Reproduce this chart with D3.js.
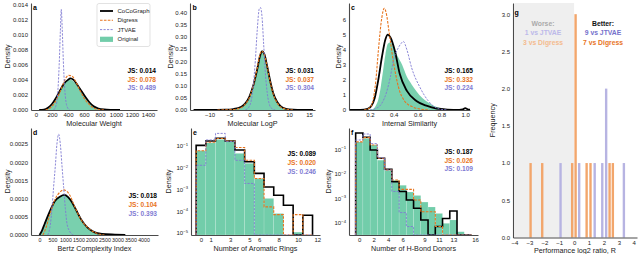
<!DOCTYPE html>
<html>
<head>
<meta charset="utf-8">
<script src="https://cdn.jsdelivr.net/npm/d3@7"></script>
<style>
  body { margin: 0; background: #fff; }
  svg { font-family: "Liberation Sans", Arial, sans-serif; }
</style>
</head>
<body>
<svg id="chart" width="640" height="254"></svg>
<script>
// ---- data ----
// a: molecular weight densities, [value, density]
var mwOriginal = [[70,0],[130,0.0001],[180,0.0004],[230,0.001],[280,0.002],[330,0.0031],[370,0.0038],[415,0.0041],[460,0.0039],[510,0.0033],[560,0.0025],[610,0.0017],[660,0.001],[710,0.0005],[770,0.0002],[850,0.00005],[950,0]];
var mwCoCo = [[40,0],[100,0.00005],[150,0.0003],[200,0.0008],[250,0.0016],[300,0.0026],[350,0.0035],[400,0.004],[430,0.0042],[470,0.004],[520,0.0033],[570,0.0025],[620,0.0017],[670,0.001],[720,0.0005],[780,0.0002],[850,0.00007],[950,0.00002],[1050,0]];
var mwDigress = [[120,0],[180,0.0003],[230,0.0009],[280,0.0019],[330,0.0032],[370,0.0042],[410,0.0046],[450,0.0045],[500,0.0037],[550,0.0026],[600,0.0016],[650,0.0009],[700,0.0004],[760,0.0001],[850,0]];
var mwJTVAE = [[220,0],[250,0.0006],[270,0.002],[290,0.006],[305,0.0105],[316,0.0134],[328,0.0108],[342,0.0065],[358,0.003],[375,0.0011],[395,0.0003],[420,0]];

// b: logP
var logpOriginal = [[-10,0],[-6,0.001],[-4,0.004],[-2,0.014],[-1,0.028],[0,0.055],[1,0.1],[2,0.17],[2.6,0.22],[3.2,0.245],[3.8,0.232],[4.5,0.18],[5.3,0.115],[6,0.07],[7,0.032],[8,0.013],[9,0.005],[11,0.001],[13,0]];
var logpCoCo = [[-14,0],[-10,0.0005],[-6,0.0015],[-4,0.004],[-2,0.013],[-1,0.027],[0,0.054],[1,0.1],[2,0.168],[2.7,0.222],[3.2,0.24],[3.8,0.228],[4.5,0.178],[5.3,0.115],[6,0.07],[7,0.033],[8,0.014],[9,0.006],[11,0.0015],[14,0.0003],[16,0]];
var logpDigress = [[-8,0],[-4,0.002],[-2,0.01],[-1,0.025],[0,0.05],[1,0.1],[2,0.172],[2.6,0.222],[3.1,0.242],[3.7,0.23],[4.5,0.176],[5.3,0.11],[6,0.066],[7,0.03],[8,0.011],[9.5,0.003],[11,0]];
var logpJTVAE = [[-1,0],[0,0.015],[0.5,0.04],[1,0.1],[1.5,0.2],[2,0.33],[2.5,0.415],[2.8,0.42],[3.2,0.38],[3.6,0.27],[4,0.16],[4.5,0.07],[5,0.025],[5.5,0.008],[6.5,0]];

// c: internal similarity
var simOriginal = [[0.15,0],[0.22,0.05],[0.25,0.3],[0.27,0.7],[0.29,1.5],[0.31,2.6],[0.33,3.7],[0.35,4.4],[0.37,4.5],[0.4,4.1],[0.43,3.6],[0.47,3.0],[0.51,2.2],[0.55,1.7],[0.59,1.25],[0.64,0.8],[0.68,0.55],[0.72,0.35],[0.76,0.2],[0.8,0.1],[0.85,0.03],[0.9,0]];
var simCoCo = [[0.03,0],[0.12,0.01],[0.18,0.08],[0.21,0.25],[0.24,0.8],[0.27,2.0],[0.3,3.5],[0.33,4.7],[0.35,5.0],[0.37,4.85],[0.41,3.9],[0.45,2.4],[0.51,1.27],[0.59,0.6],[0.68,0.27],[0.76,0.1],[0.85,0.03],[0.95,0.01],[0.98,0.04],[1.0,0.12],[1.02,0.05],[1.04,0.02]];
var simDigress = [[0.15,0],[0.2,0.15],[0.23,0.8],[0.25,2.0],[0.27,3.9],[0.3,6.15],[0.32,6.75],[0.34,6.3],[0.36,5.2],[0.4,3.05],[0.44,1.5],[0.49,0.6],[0.56,0.2],[0.62,0.07],[0.7,0]];
var simJTVAE = [[0.2,0],[0.25,0.1],[0.3,0.45],[0.34,1.2],[0.37,2.15],[0.4,3.4],[0.43,4.0],[0.46,4.4],[0.48,4.55],[0.51,4.0],[0.55,2.8],[0.62,1.5],[0.69,0.6],[0.77,0.1],[0.85,0]];

// d: Bertz complexity
var bertzOriginal = [[0,0],[100,0.00012],[200,0.0003],[392,0.00064],[585,0.00092],[800,0.00106],[950,0.0011],[1100,0.00104],[1250,0.0009],[1400,0.0007],[1600,0.00043],[1850,0.0002],[2100,0.00008],[2400,0.00003],[3000,0.000005],[3300,0]];
var bertzCoCo = [[0,0],[100,0.00013],[200,0.00031],[392,0.00064],[585,0.00093],[800,0.00106],[950,0.0011],[1100,0.00104],[1250,0.0009],[1400,0.0007],[1600,0.00043],[1850,0.0002],[2100,0.00008],[2400,0.00003],[2900,0.00001],[3300,0]];
var bertzDigress = [[130,0],[250,0.0002],[392,0.00055],[585,0.00096],[806,0.00119],[936,0.00124],[1050,0.0012],[1160,0.0011],[1354,0.00078],[1608,0.00041],[1865,0.0002],[2120,0.00007],[2500,0]];
var bertzJTVAE = [[320,0],[420,0.0003],[481,0.00073],[540,0.0013],[609,0.0019],[670,0.0025],[738,0.00277],[800,0.0025],[865,0.0019],[930,0.0013],[994,0.00073],[1060,0.0003],[1160,0.0001],[1300,0]];

// e: aromatic rings, density per bin 0..11
var ringBins = [0,1,2,3,4,5,6,7,8,9,10,11];
var ringOriginal = [0.061,0.14,0.2,0.16,0.046,0.016,0.0032,0.00039,0.000079,0,0.000011,0];
var ringCoCo = [0.107,0.17,0.226,0.17,0.066,0.019,0.0055,0.0013,0.00055,0.00019,0,0.000066];
var ringDigress = [0.061,0.15,0.22,0.17,0.085,0.022,0.0032,0.00016,0.00007,0,0.00007,0];
var ringJTVAE = [0.013,0.19,0.38,0.16,0.022,0.0019,0,0,0,0,0,0];

// f: H-bond donors, density per bin 0..15
var donorBins = [0,1,2,3,4,5,6,7,8,9,10,11,12,13,14,15];
var donorOriginal = [0.2,0.28,0.15,0.036,0.014,0.0055,0.0034,0.0018,0.0013,0.0007,0.00044,0.00024,0.000095,0.00013,0.000043,0];
var donorCoCo = [0.46,0.31,0.094,0.043,0.0153,0.0047,0.0019,0.00085,0.00039,0.00013,0,0.00007,0.00015,0.0003,0,0];
var donorDigress = [0.2,0.3,0.15,0.043,0.0143,0.0056,0.0023,0.0023,0.00085,0.00028,0.00028,0.00007,0,0,0,0];
var donorJTVAE = [0.24,0.42,0.17,0.045,0.0143,0.0019,0.00026,0.00007,0,0,0,0,0,0,0,0];

// g: performance log2 ratio histogram
var gDigressR = [-2.92,-2.14,-0.13,0.1,0.84,1.1,2.38,2.6];
var gDigressN = [1,1,1,3,1,1,1,1];
var gJTVAER = [-0.91,0.34,1.38,1.89,2.15,3.34];
var gJTVAEN = [1,1,1,1,2,1];

var jsScores = {
  a: ["0.014","0.078","0.489"], b: ["0.031","0.037","0.304"], c: ["0.165","0.332","0.224"],
  d: ["0.018","0.104","0.393"], e: ["0.089","0.020","0.246"], f: ["0.187","0.026","0.109"]
};

// ---- drawing ----
var svg = d3.select("#chart");
var col = {coco: "#000000", digress: "#e8741e", jtvae: "#7f7bd3", orig: "#72cdaa", axis: "#4a4a4a"};

function makePanel(box, xDom, yDom, log) {
  var x = d3.scaleLinear().domain(xDom).range([box.l, box.r]);
  var y = (log ? d3.scaleLog() : d3.scaleLinear()).domain(yDom).range([box.b, box.t]);
  return {x: x, y: y, box: box, log: log};
}

function drawAxes(p, xTicks, xFmt, yTicks, yFmt, xLabel, yLabel, yLabelX, xFont) {
  var gx = svg.append("g").attr("transform", "translate(0," + p.box.b + ")")
    .call(d3.axisBottom(p.x).tickValues(xTicks).tickFormat(xFmt).tickSize(0).tickPadding(3).tickSizeOuter(0));
  var gy = svg.append("g").attr("transform", "translate(" + p.box.l + ",0)")
    .call(d3.axisLeft(p.y).tickValues(yTicks).tickFormat(p.log ? "" : yFmt).tickSize(0).tickPadding(3).tickSizeOuter(0));
  [gx, gy].forEach(function(g) {
    g.select(".domain").attr("stroke", col.axis).attr("stroke-width", 1.1);
    g.selectAll("text").attr("font-size", 6).attr("fill", "#222")
      .attr("font-family", "'Liberation Sans', Arial, sans-serif");
  });
  if (xFont) gx.selectAll("text").attr("font-size", xFont);
  if (p.log) {
    // 10^-n labels
    gy.selectAll(".tick text").each(function(d) {
      var t = d3.select(this).text("");
      t.append("tspan").text("10");
      t.append("tspan").attr("dy", -2.5).attr("font-size", 4.2).text("\u2212" + Math.round(-Math.log10(d)));
    });
  }
  svg.append("text").attr("x", (p.box.l + p.box.r) / 2).attr("y", p.box.b + 15.5)
    .attr("text-anchor", "middle").attr("font-size", 7.2).attr("fill", "#222").text(xLabel);
  svg.append("text").attr("transform", "translate(" + yLabelX + "," + ((p.box.t + p.box.b) / 2) + ") rotate(-90)")
    .attr("text-anchor", "middle").attr("font-size", 7.2).attr("fill", "#222").text(yLabel);
}

function letter(s, x, y) {
  svg.append("text").attr("x", x).attr("y", y).attr("font-size", 7).attr("font-weight", "bold").text(s);
}

function jsText(scores, x, ys) {
  var cs = [col.coco, col.digress, col.jtvae];
  scores.forEach(function(s, i) {
    svg.append("text").attr("x", x).attr("y", ys[i]).attr("text-anchor", "end")
      .attr("font-size", 6.6).attr("font-weight", "bold").attr("fill", cs[i]).text("JS: " + s);
  });
}

function kdePanel(p, orig, coco, digress, jtvae) {
  var clipId = "clip" + Math.round(p.box.l) + "_" + Math.round(p.box.t);
  svg.append("clipPath").attr("id", clipId).append("rect")
    .attr("x", p.box.l).attr("y", p.box.t - 2).attr("width", p.box.r - p.box.l).attr("height", p.box.b - p.box.t + 2);
  var g = svg.append("g").attr("clip-path", "url(#" + clipId + ")");
  var area = d3.area().curve(d3.curveMonotoneX)
    .x(function(d) { return p.x(d[0]); }).y0(p.y(0)).y1(function(d) { return p.y(d[1]); });
  var line = d3.line().curve(d3.curveMonotoneX)
    .x(function(d) { return p.x(d[0]); }).y(function(d) { return p.y(d[1]); });
  g.append("path").datum(orig).attr("d", area).attr("fill", col.orig).attr("fill-opacity", 0.95);
  g.append("path").datum(coco).attr("d", line).attr("fill", "none").attr("stroke", col.coco).attr("stroke-width", 1.8);
  g.append("path").datum(digress).attr("d", line).attr("fill", "none").attr("stroke", col.digress)
    .attr("stroke-width", 1.1).attr("stroke-dasharray", "2.6,1.3");
  g.append("path").datum(jtvae).attr("d", line).attr("fill", "none").attr("stroke", col.jtvae)
    .attr("stroke-width", 0.9).attr("stroke-dasharray", "2.2,1.3");
}

function histPanel(p, bins, orig, coco, digress, jtvae) {
  var yMin = p.y.domain()[0];
  var bottom = p.box.b;
  var g = svg.append("g");
  g.selectAll(".hbar").data(bins.filter(function(b, i) { return orig[i] > 0; }))
    .enter().append("rect")
      .attr("x", function(b) { return p.x(b - 0.5); })
      .attr("width", function(b) { return p.x(b + 0.5) - p.x(b - 0.5); })
      .attr("y", function(b) { return p.y(orig[bins.indexOf(b)]); })
      .attr("height", function(b) { return bottom - p.y(orig[bins.indexOf(b)]); })
      .attr("fill", col.orig).attr("stroke", "#ffffff").attr("stroke-opacity", 0.35).attr("stroke-width", 0.4);
  function stepPts(vals) {
    var pts = [];
    bins.forEach(function(b, i) {
      var v = vals[i] > 0 ? vals[i] : yMin;
      pts.push([b - 0.5, v]);
      pts.push([b + 0.5, v]);
    });
    pts.unshift([bins[0] - 0.5, yMin]);
    pts.push([bins[bins.length - 1] + 0.5, yMin]);
    return pts;
  }
  var line = d3.line().x(function(d) { return p.x(d[0]); })
    .y(function(d) { return Math.min(bottom, p.y(d[1])); });
  g.append("path").attr("d", line(stepPts(coco))).attr("fill", "none").attr("stroke", col.coco).attr("stroke-width", 1.6);
  g.append("path").attr("d", line(stepPts(digress))).attr("fill", "none").attr("stroke", col.digress)
    .attr("stroke-width", 1.1).attr("stroke-dasharray", "2.6,1.3");
  g.append("path").attr("d", line(stepPts(jtvae))).attr("fill", "none").attr("stroke", col.jtvae)
    .attr("stroke-width", 0.9).attr("stroke-dasharray", "2.2,1.3");
}

// panel a
var pa = makePanel({l: 31, r: 157, t: 3, b: 110}, [-62, 1512], [0, 0.01422], false);
kdePanel(pa, mwOriginal, mwCoCo, mwDigress, mwJTVAE);
drawAxes(pa, d3.range(0, 1401, 200), d3.format("d"), d3.range(0, 0.0141, 0.002), d3.format(".3f"),
  "Molecular Weight", "Density", 10);
letter("a", 33, 10);
jsText(jsScores.a, 156, [72.5, 81.5, 90]);

// legend
var lg = svg.append("g");
lg.append("rect").attr("x", 97).attr("y", 3.5).attr("width", 53).attr("height", 43).attr("rx", 2)
  .attr("fill", "#fff").attr("fill-opacity", 0.85).attr("stroke", "#d6d6d6").attr("stroke-width", 0.7);
var legItems = [
  {name: "CoCoGraph", color: col.coco, w: 1.8, dash: null},
  {name: "Digress", color: col.digress, w: 1.1, dash: "2.6,1.3"},
  {name: "JTVAE", color: col.jtvae, w: 0.9, dash: "2.2,1.3"},
  {name: "Original", color: col.orig, patch: true}
];
var legY = [11, 20.3, 29.6, 39.3];
legItems.forEach(function(it, i) {
  if (it.patch) {
    lg.append("rect").attr("x", 100).attr("y", legY[i] - 2.6).attr("width", 13).attr("height", 5.2).attr("fill", it.color);
  } else {
    lg.append("line").attr("x1", 100).attr("x2", 113).attr("y1", legY[i]).attr("y2", legY[i])
      .attr("stroke", it.color).attr("stroke-width", it.w).attr("stroke-dasharray", it.dash);
  }
  lg.append("text").attr("x", 117.5).attr("y", legY[i] + 2.1).attr("font-size", 6).attr("fill", "#222").text(it.name);
});

// panel b
var pb = makePanel({l: 190, r: 315, t: 3, b: 110}, [-14.9, 16.5], [0, 0.4385], false);
kdePanel(pb, logpOriginal, logpCoCo, logpDigress, logpJTVAE);
drawAxes(pb, [-10, -5, 0, 5, 10, 15], d3.format("d"), d3.range(0, 0.401, 0.05), d3.format(".2f"),
  "Molecular LogP", "Density", 172.5);
letter("b", 192.5, 10);
jsText(jsScores.b, 314, [72.5, 81.5, 90]);

// panel c
var pc = makePanel({l: 349, r: 470, t: 3, b: 110}, [0.024, 1.04], [0, 7.1], false);
kdePanel(pc, simOriginal, simCoCo, simDigress, simJTVAE);
drawAxes(pc, [0.2, 0.4, 0.6, 0.8, 1.0], d3.format(".1f"), [0, 1, 2, 3, 4, 5, 6], d3.format("d"),
  "Internal Similarity", "Density", 340.5);
letter("c", 351, 10);
jsText(jsScores.c, 473, [72.5, 81.5, 90]);

// panel d
var pd = makePanel({l: 31, r: 158, t: 128, b: 235}, [-327, 4557], [0, 0.00294], false);
kdePanel(pd, bertzOriginal, bertzCoCo, bertzDigress, bertzJTVAE);
drawAxes(pd, d3.range(0, 4001, 500), d3.format("d"), d3.range(0, 0.00251, 0.0005), d3.format(".4f"),
  "Bertz Complexity Index", "Density", 10, 5.3);
letter("d", 33, 135);
jsText(jsScores.d, 157, [197.5, 206.8, 215.8]);

// panel e
var pe = makePanel({l: 191, r: 320, t: 128, b: 235}, [-1.03, 12.27], [Math.pow(10, -5.09), Math.pow(10, -0.172)], true);
histPanel(pe, ringBins, ringOriginal, ringCoCo, ringDigress, ringJTVAE);
drawAxes(pe, [0, 1, 3, 5, 6, 8, 10, 12], d3.format("d"), [1e-1, 1e-2, 1e-3, 1e-4, 1e-5], null,
  "Number of Aromatic Rings", "Density", 170.5);
letter("e", 193, 135);
jsText(jsScores.e, 316, [155.8, 164.8, 174.2]);

// panel f
var pf = makePanel({l: 349, r: 478, t: 128, b: 235}, [-1.42, 16.4], [Math.pow(10, -4.5), Math.pow(10, -0.131)], true);
histPanel(pf, donorBins, donorOriginal, donorCoCo, donorDigress, donorJTVAE);
drawAxes(pf, [0, 2, 4, 6, 9, 11, 13, 16], d3.format("d"), [1e-1, 1e-2, 1e-3, 1e-4], null,
  "Number of H-Bond Donors", "Density", 330.5);
letter("f", 351, 135);
jsText(jsScores.f, 473, [154.2, 162.5, 170.8]);

// panel g
var pg = makePanel({l: 513, r: 637, t: 3, b: 237.5}, [-4.1, 4.22], [0, 3.15], false);
svg.append("rect").attr("x", pg.x(-4)).attr("y", pg.box.t).attr("width", pg.x(0) - pg.x(-4))
  .attr("height", pg.box.b - pg.box.t).attr("fill", "#efefef");
var barW = 0.16;
svg.append("g").selectAll("rect").data(gJTVAER).enter().append("rect")
  .attr("x", function(r) { return pg.x(r - barW / 2); })
  .attr("width", pg.x(barW) - pg.x(0))
  .attr("y", function(r, i) { return pg.y(gJTVAEN[i]); })
  .attr("height", function(r, i) { return pg.y(0) - pg.y(gJTVAEN[i]); })
  .attr("fill", "#b7b4e2");
svg.append("g").selectAll("rect").data(gDigressR).enter().append("rect")
  .attr("x", function(r) { return pg.x(r - barW / 2); })
  .attr("width", pg.x(barW) - pg.x(0))
  .attr("y", function(r, i) { return pg.y(gDigressN[i]); })
  .attr("height", function(r, i) { return pg.y(0) - pg.y(gDigressN[i]); })
  .attr("fill", "#f2a66c");
drawAxes(pg, d3.range(-4, 5, 1), d3.format("d"), d3.range(0, 3.01, 0.5), d3.format(".1f"),
  "Performance log2 ratio, R", "Frequency", 494.5);
letter("g", 514.5, 14.5);

var notes = [
  {x: 543, y: 26, t: "Worse:", c: "#aaaaaa"},
  {x: 543, y: 35, t: "1 vs JTVAE", c: "#bcb9ea"},
  {x: 543, y: 45, t: "3 vs Digress", c: "#f4bb8e"},
  {x: 603, y: 26, t: "Better:", c: "#111111"},
  {x: 603, y: 35, t: "9 vs JTVAE", c: "#7470cc"},
  {x: 603, y: 45, t: "7 vs Digress", c: "#e8741e"}
];
svg.append("g").selectAll("text").data(notes).enter().append("text")
  .attr("x", function(d) { return d.x; }).attr("y", function(d) { return d.y; })
  .attr("text-anchor", "middle").attr("font-size", 6.8).attr("font-weight", "bold")
  .attr("fill", function(d) { return d.c; }).text(function(d) { return d.t; });
</script>
</body>
</html>
